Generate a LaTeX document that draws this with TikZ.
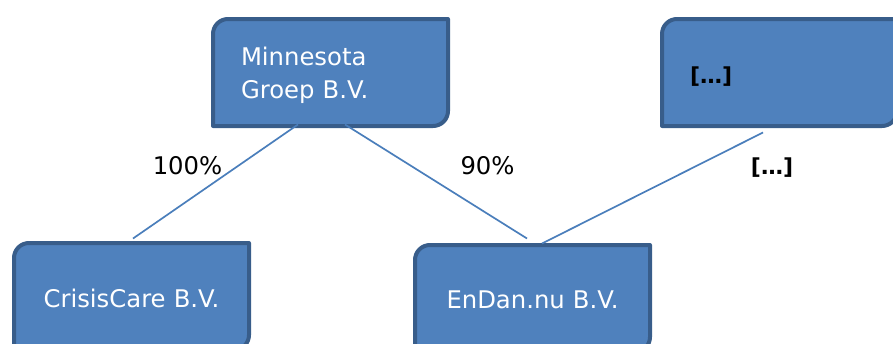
\documentclass[tikz,border=0pt]{standalone}
\usepackage{fontspec}
\setmainfont{DejaVu Sans}
\definecolor{boxfill}{HTML}{4F81BD}
\definecolor{boxedge}{HTML}{385D8A}
\definecolor{linkcol}{HTML}{4A7EBB}
\tikzset{
  orgbox/.style={rectangle, draw=none, outer sep=0pt, inner sep=0pt,
    minimum width=235pt, minimum height=107pt, text=white,
    font=\fontsize{24.3}{33}\selectfont},
  leftbox/.style={orgbox, text width=179pt, align=left},
  centbox/.style={orgbox, text width=235pt, align=center},
  link/.style={draw=linkcol, line width=1.7pt},
  pct/.style={font=\fontsize{24.3}{28}\selectfont, text=black, inner sep=0pt},
  shellline/.style={draw=boxedge, fill=boxfill, line width=4pt, line join=round}
}
\newcommand{\diagshell}[1]{%
  \path[shellline] (#1.south west) -- ([yshift=-15pt]#1.north west)
    arc[start angle=180, end angle=90, radius=15pt]
    -- (#1.north east) -- ([yshift=15pt]#1.south east)
    arc[start angle=0, end angle=-90, radius=15pt] -- cycle;}
\begin{document}
\begin{tikzpicture}[x=1pt,y=-1pt]
\useasboundingbox (0,0) rectangle (893,343);
\clip (0,0) rectangle (893,343);
\path (330.5,72.5) coordinate (mnc) (779.5,72.5) coordinate (trc)
      (131.5,296.5) coordinate (ccc) (532.5,298.5) coordinate (edc);
\node[orgbox] (mnS) at (mnc) {};
\node[orgbox] (trS) at (trc) {};
\node[orgbox] (ccS) at (ccc) {};
\node[orgbox] (edS) at (edc) {};
\diagshell{mnS}
\diagshell{trS}
\diagshell{ccS}
\diagshell{edS}
\node[leftbox] (mn) at (330.5,75) {Minnesota\\Groep B.V.};
\node[leftbox, text=black, font=\fontsize{22}{26}\selectfont\bfseries] (tr) at (779.5,77) {[…]};
\node[centbox] (cc) at (131.5,298) {CrisisCare B.V.};
\node[centbox] (ed) at (532.5,300) {EnDan.nu B.V.};
\draw[link] ([xshift=-32.5pt,yshift=1.5pt]mnS.south) -- ([xshift=1.5pt,yshift=4.5pt]ccS.north);
\draw[link] ([xshift=14.5pt,yshift=1.5pt]mnS.south) -- ([xshift=-5.5pt,yshift=6.5pt]edS.north);
\draw[link] ([xshift=-16.5pt,yshift=-6.5pt]trS.south) -- ([xshift=9.5pt,yshift=1.5pt]edS.north);
\node[pct] (l1) at (187.5,166) {100\%};
\node[pct] (l2) at (487.5,166) {90\%};
\node[pct, font=\fontsize{22}{26}\selectfont\bfseries] (l3) at (772,168) {[…]};
\end{tikzpicture}
\end{document}
